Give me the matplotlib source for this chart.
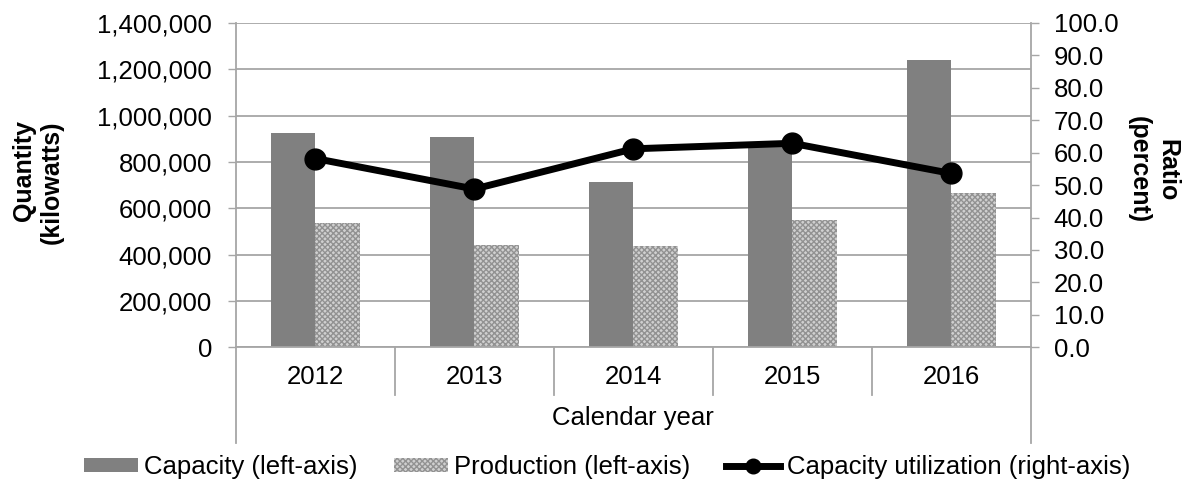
import numpy as np
import matplotlib
matplotlib.use("Agg")
import matplotlib.pyplot as plt
from matplotlib.lines import Line2D
from matplotlib.ticker import FuncFormatter

plt.rcParams['font.family'] = ['Liberation Sans', 'DejaVu Sans']
plt.rcParams['hatch.linewidth'] = 1.0

years = ['2012', '2013', '2014', '2015', '2016']
capacity = [924000, 908000, 714000, 874000, 1240000]
production = [538000, 443000, 437000, 550000, 665000]
utilization = [58.2, 48.8, 61.2, 62.9, 53.6]

grid_c = '#a6a6a6'
fs = 18.5

fig = plt.figure(figsize=(11.93, 4.82), dpi=100)
ax = fig.add_axes([0.1978, 0.2795, 0.6661, 0.6728])
x = np.arange(len(years))
w = 0.28

b1 = ax.bar(x - w / 2, capacity, w, color='#808080', linewidth=0, label='Capacity (left-axis)')
b2 = ax.bar(x + w / 2, production, w, color='#d0d0d0', hatch='xxxxxx', edgecolor='#929292',
            linewidth=0, label='Production (left-axis)')
ax.set_xlim(-0.5, len(years) - 0.5)
ax.set_ylim(0, 1400000)
ax.set_yticks(np.arange(0, 1400001, 200000))
ax.yaxis.set_major_formatter(FuncFormatter(lambda v, p: '{:,.0f}'.format(v)))
ax.yaxis.grid(True, color=grid_c, lw=1.3)
ax.set_axisbelow(True)
ax.set_xticks(x)
ax.set_xticklabels(years)
ax.tick_params(axis='x', length=0, pad=13, labelsize=fs)
ax.tick_params(axis='y', length=5.8, width=1, color=grid_c, pad=11.5, labelsize=fs)
ax.set_xlabel('Calendar year', fontsize=fs, labelpad=12)
for s in ['top', 'right']:
    ax.spines[s].set_visible(False)
for s in ['left', 'bottom']:
    ax.spines[s].set_color(grid_c)
    ax.spines[s].set_linewidth(1.3)

ax2 = ax.twinx()
ax2.plot(x, utilization, color='black', lw=5, marker='o', ms=15)
ax2.set_ylim(0, 100)
ax2.set_yticks(np.arange(0, 101, 10))
ax2.yaxis.set_major_formatter(FuncFormatter(lambda v, p: '{:.1f}'.format(v)))
ax2.tick_params(axis='y', length=5.8, width=1, color=grid_c, pad=10.8, labelsize=fs)
for s in ['top', 'left', 'bottom']:
    ax2.spines[s].set_visible(False)
ax2.spines['right'].set_color(grid_c)
ax2.spines['right'].set_linewidth(1.3)

# category box lines below the axis
tr = ax.get_xaxis_transform()
for xe in [-0.5, len(years) - 0.5]:
    ax.add_line(Line2D([xe, xe], [0, -0.296], transform=tr, color=grid_c, lw=1.3, clip_on=False))
for xd in x[:-1] + 0.5:
    ax.add_line(Line2D([xd, xd], [0, -0.148], transform=tr, color=grid_c, lw=1.3, clip_on=False))

fig.text(38 / 1193, 1 - 182 / 482, 'Quantity\n(kilowatts)', rotation=90, ha='center', va='center',
         fontsize=18, fontweight='bold', multialignment='right')
fig.text(1153 / 1193, 1 - 170 / 482, 'Ratio\n(percent)', rotation=270, ha='center', va='center',
         fontsize=18, fontweight='bold', multialignment='center')

# smaller marker in the legend than on the chart
ln = Line2D([], [], color='black', lw=5, marker='o', ms=10.5,
            label='Capacity utilization (right-axis)')
fig.legend(handles=[b1, b2, ln], loc='center', bbox_to_anchor=(607 / 1193, 1 - 467 / 482),
           ncol=3, frameon=False, fontsize=fs, handlelength=2.1, handleheight=0.5,
           handletextpad=0.25, columnspacing=1.4, borderpad=0, borderaxespad=0)

fig.savefig('out.png', dpi=100)
